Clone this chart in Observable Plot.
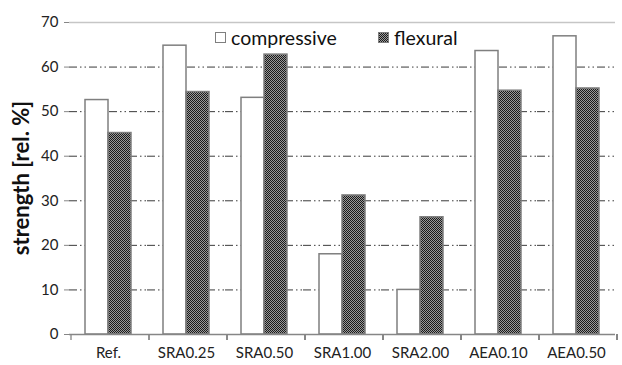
<!DOCTYPE html>
<html><head><meta charset="utf-8">
<script src="https://cdn.jsdelivr.net/npm/d3@7"></script>
<script src="https://cdn.jsdelivr.net/npm/@observablehq/plot@0.6"></script>
<style>
body{margin:0;background:#fff;}
#chart{position:relative;width:622px;height:365px;font-family:Lato,"Open Sans",sans-serif;}
.leg{position:absolute;top:25px;height:24px;background:#fff;display:flex;align-items:center;font-size:19.5px;color:#111;padding:0 3px;}
.leg svg{margin-right:5px;}
#ylabel{position:absolute;left:20px;top:178px;transform:translate(-50%,-50%) rotate(-90deg);font-weight:bold;font-size:22px;color:#111;white-space:nowrap;}
</style></head>
<body><div id="chart"></div>
<script>
const categories = ["Ref.","SRA0.25","SRA0.50","SRA1.00","SRA2.00","AEA0.10","AEA0.50"];
const compressive = [52.6, 64.8, 53.1, 18.0, 10.0, 63.6, 66.9];
const flexural = [45.2, 54.4, 62.8, 31.2, 26.3, 54.7, 55.2];
const series = ["compressive","flexural"];
const yTicks = [0,10,20,30,40,50,60,70];
const gridTicks = [10,20,30,40,50,60];
const yLabel = "strength [rel. %]";

const data = categories.flatMap((c,i)=>[
  {category:c, series:series[0], value:compressive[i]},
  {category:c, series:series[1], value:flexural[i]}
]);

function boundaryTicks(index, scales, values, dimensions) {
  const g = d3.create("svg:g").attr("stroke","#868686").attr("stroke-width",1.3);
  const y0 = scales.y(0);
  categories.forEach(c => {
    const x = scales.fx(c);
    g.append("line").attr("x1",x).attr("x2",x).attr("y1",y0).attr("y2",y0+6);
  });
  const last = scales.fx(categories[categories.length-1]) + scales.fx.bandwidth();
  g.append("line").attr("x1",last).attr("x2",last).attr("y1",y0).attr("y2",y0+6);
  return g.node();
}

const plot = Plot.plot({
  width:622, height:365,
  marginLeft:67, marginRight:5, marginTop:22, marginBottom:31,
  style:{fontFamily:"Lato, 'Open Sans', sans-serif", fontSize:"15px", color:"#222", background:"#fff"},
  fx:{domain:categories, padding:0, label:null},
  x:{domain:series, paddingInner:0, paddingOuter:0.67, axis:null},
  y:{domain:[0,70], label:null},
  marks:[
    Plot.ruleY(gridTicks, {stroke:"#3a3a3a", strokeWidth:1, strokeDasharray:"8,3,1.5,3,1.5,3"}),
    Plot.ruleY([70], {stroke:"#c6c6c6", strokeWidth:1.5}),
    Plot.barY(data.filter(d=>d.series===series[0]), {fx:"category", x:"series", y:"value", fill:"white", stroke:"#7f7f7f", strokeWidth:1.5}),
    Plot.barY(data.filter(d=>d.series===series[1]), {fx:"category", x:"series", y:"value", fill:"url(#checker)", stroke:"#7f7f7f", strokeWidth:1.5}),
    Plot.ruleY([0], {stroke:"#868686", strokeWidth:1.5}),
    Plot.axisY(yTicks, {tickSize:5, tickPadding:6, stroke:"#868686", fill:"#222", line:true, label:null}),
    Plot.axisFx({anchor:"bottom", tickSize:0, tickPadding:13, label:null}),
    boundaryTicks
  ]
});

const defs = d3.select(plot).insert("defs", ":first-child");
const pat = defs.append("pattern").attr("id","checker").attr("patternUnits","userSpaceOnUse").attr("width",2).attr("height",2);
pat.append("rect").attr("width",2).attr("height",2).attr("fill","#9a9a9a");
pat.append("rect").attr("x",0).attr("y",0).attr("width",1).attr("height",1).attr("fill","#1a1a1a");
pat.append("rect").attr("x",1).attr("y",1).attr("width",1).attr("height",1).attr("fill","#1a1a1a");

const chart = document.getElementById("chart");
chart.appendChild(plot);

const swatch = fill => `<svg width="11" height="11"><rect x="0.5" y="0.5" width="10" height="10" fill="${fill}" stroke="#7f7f7f"/></svg>`;
const positions = [212, 375];
const fills = ["#fff", "url(#checker)"];
series.forEach((s, i) => {
  const el = document.createElement("div");
  el.className = "leg";
  el.style.left = positions[i] + "px";
  el.innerHTML = swatch(fills[i]) + s;
  chart.appendChild(el);
});

const yl = document.createElement("div");
yl.id = "ylabel";
yl.textContent = yLabel;
chart.appendChild(yl);
</script>
</body></html>
